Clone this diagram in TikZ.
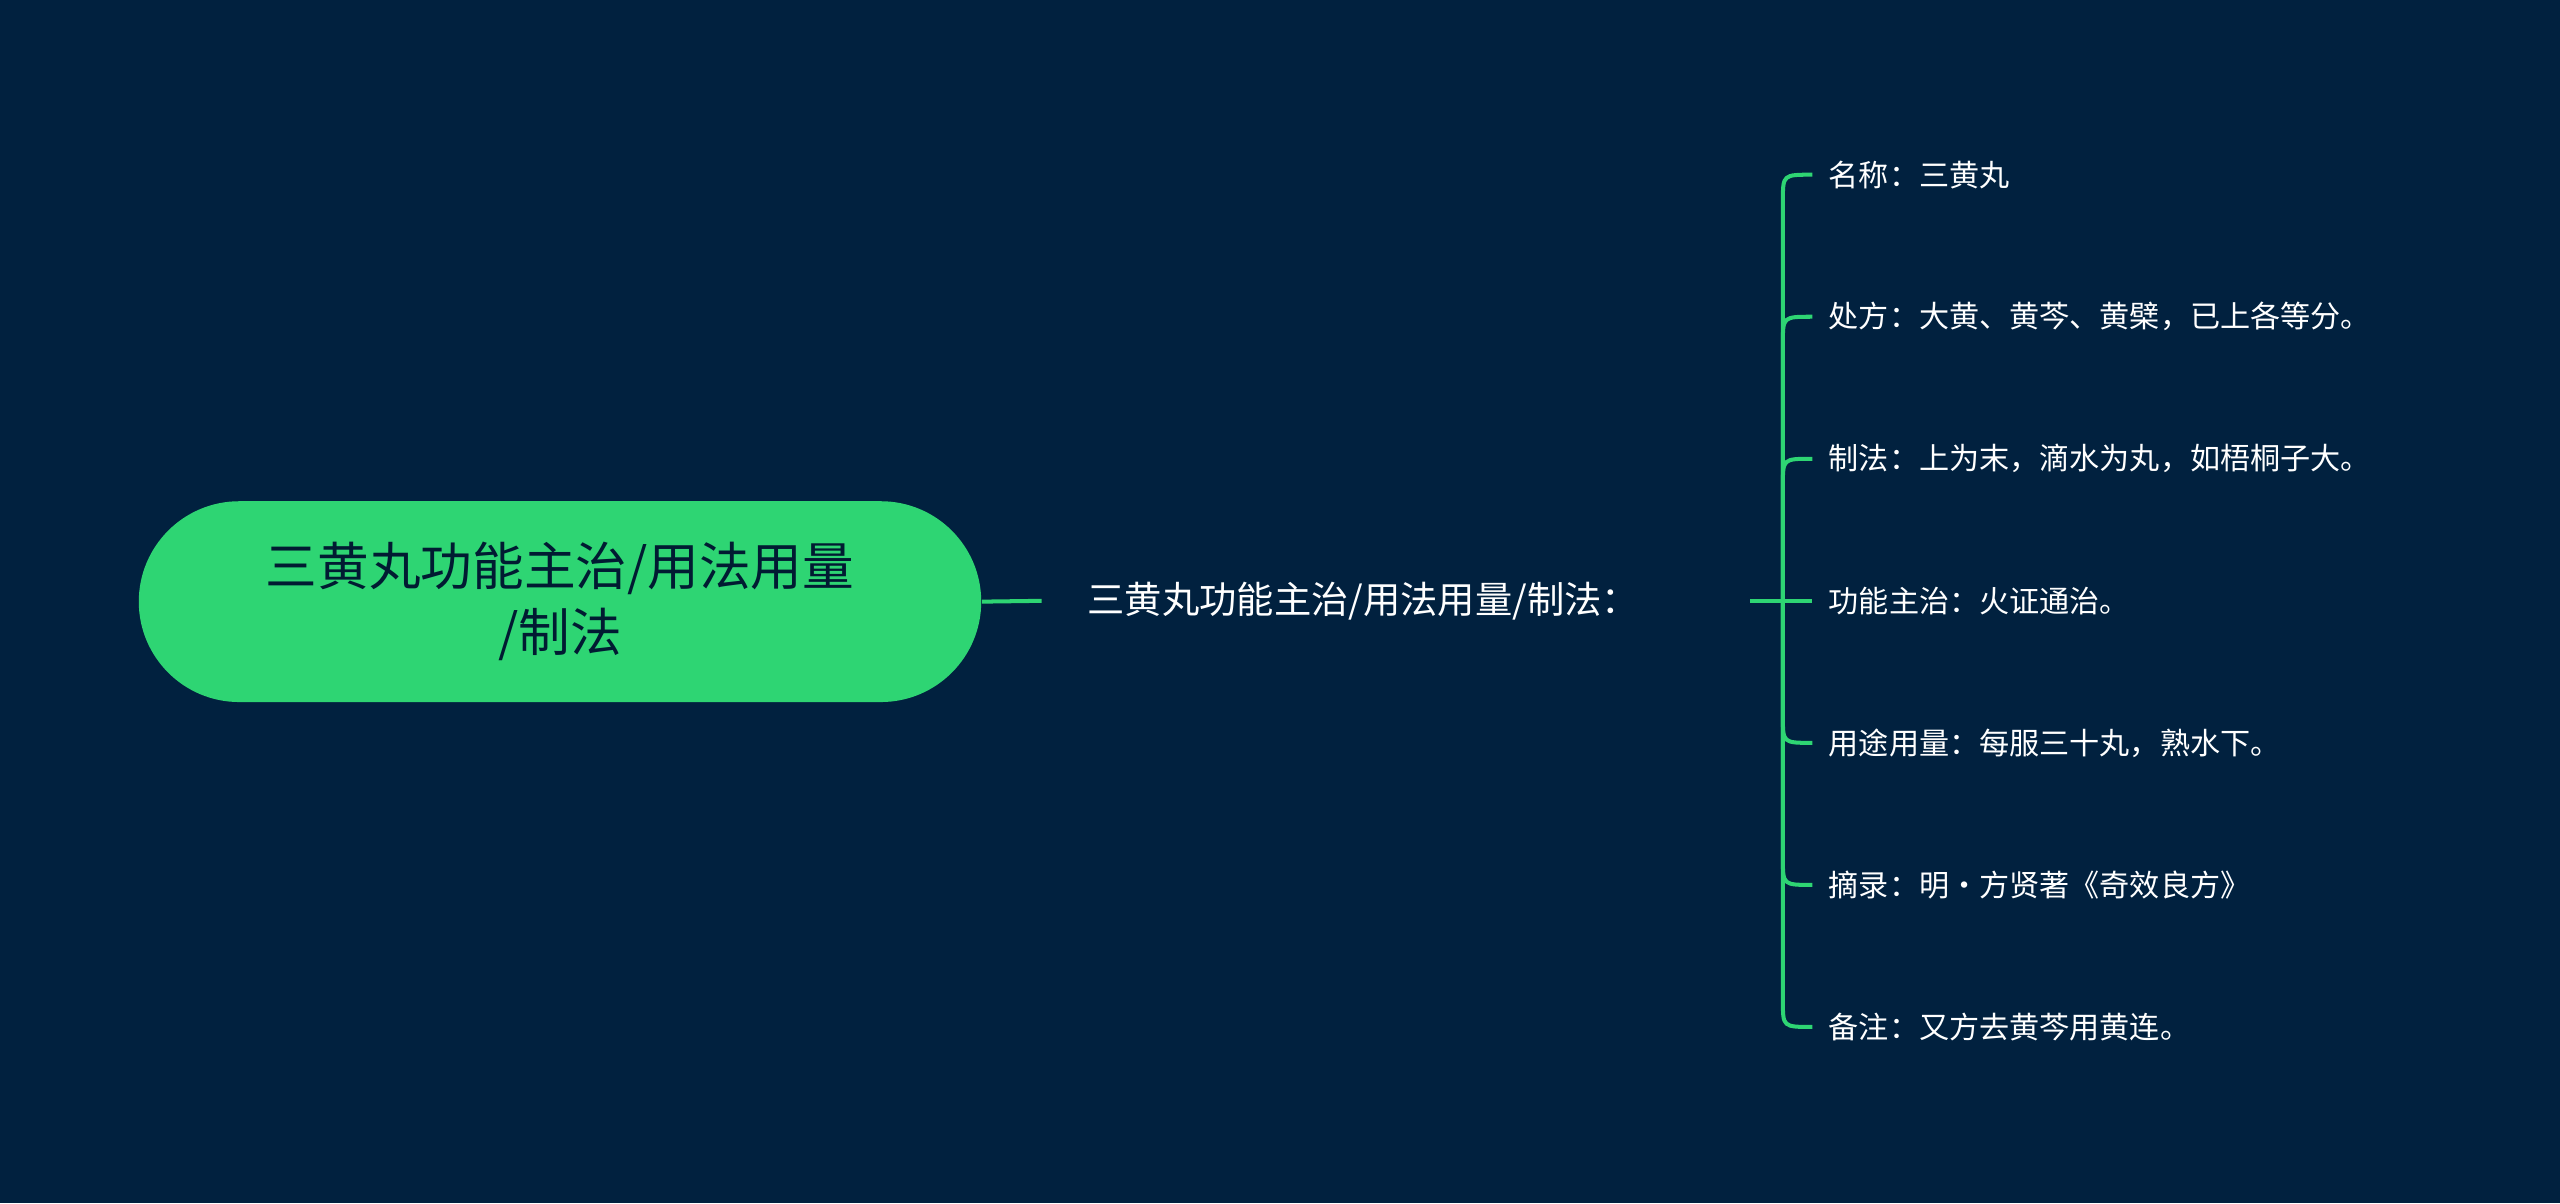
\documentclass[tikz,border=0pt]{standalone}
\usepackage{fontspec}
\setmainfont{Noto Sans CJK SC}
\definecolor{bgnavy}{HTML}{01213F}
\definecolor{mintgreen}{HTML}{2ED573}
\begin{document}
\begin{tikzpicture}[x=0.02cm,y=-0.02cm]
    \tikzset{rootbox/.style={fill=mintgreen,rounded corners=61.5*0.02cm,minimum width=516*0.02cm,minimum height=123*0.02cm,align=center,font=\fontsize{18}{23}\selectfont,text=bgnavy!80!black},
      midtext/.style={text=white,font=\fontsize{13}{16}\selectfont},
      leaf/.style={text=white,font=\fontsize{10.5}{13}\selectfont,anchor=west,inner sep=1pt},
      link/.style={mintgreen,line width=1.4pt}}
    \fill [bgnavy] (0,0) rectangle (1568,737);
    \node [rootbox] (root) at (343,368.5) {三黄丸功能主治/用法用量\\/制法};
    \node [midtext,anchor=west] (mid) at (660,368) {三黄丸功能主治/用法用量/制法：};
    \coordinate (midin) at (638,368);
    \coordinate (hub) at (1072,368);
    \coordinate (trunk) at (1092,368);
    \draw [link] (root.east) -- (midin);
    \draw [link] (hub) -- (trunk) -- (1110,368);
    % leaves
    \foreach \name/\yy/\sg/\txt in {a/107/1/名称：三黄丸,
        b/194/1/处方：大黄、黄芩、黄檗，已上各等分。,
        c/281/1/制法：上为末，滴水为丸，如梧桐子大。,
        d/368/0/功能主治：火证通治。,
        e/455/-1/用途用量：每服三十丸，熟水下。,
        f/542/-1/摘录：明·方贤著《奇效良方》,
        g/629/-1/备注：又方去黄芩用黄连。}{
      \node [leaf] (\name) at (1118,\yy) {\txt};
      \ifnum\sg=0\else
        \draw [link] (trunk) -- (1092,\yy+16*\sg) .. controls (1092,\yy) .. (1110,\yy);
      \fi
    }
\end{tikzpicture}
\end{document}
